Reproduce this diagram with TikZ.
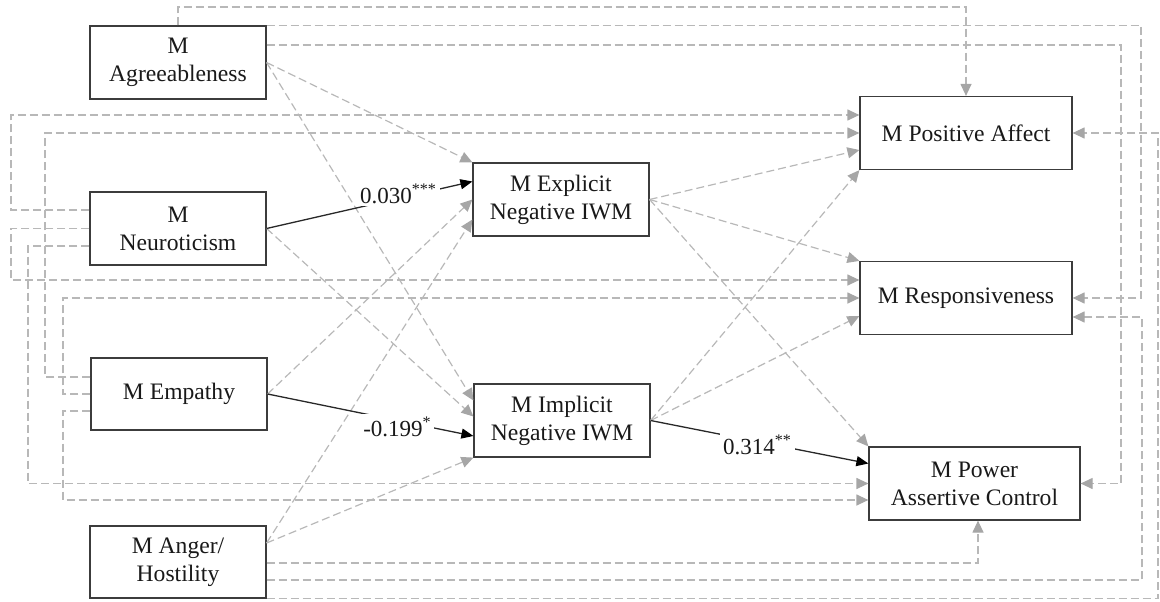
\documentclass[tikz,border=0pt]{standalone}
\usepackage{fontspec}
\setmainfont{Liberation Serif}
\usetikzlibrary{arrows.meta,calc}
\definecolor{lgray}{RGB}{184,184,184}
\definecolor{agray}{RGB}{166,166,166}
\definecolor{boxc}{RGB}{60,60,60}
\definecolor{dline}{RGB}{40,40,40}
\begin{document}
\begin{tikzpicture}[x=1pt,y=-1pt,
  box/.style={draw=boxc, line width=1.2pt, fill=white, minimum height=73pt, inner sep=0pt,
    align=center, font=\fontsize{23.6}{28}\selectfont, text=black!90},
  g/.style={draw=lgray, line width=1.2pt, dash pattern=on 8pt off 4pt,
    -{Triangle[length=12pt,width=11pt,color=agray]}},
  s/.style={draw=dline, line width=1.3pt, -{Triangle[length=12pt,width=10pt,color=black]}},
  lab/.style={fill=white, inner sep=3pt, font=\fontsize{23}{26}\selectfont, text=black!90}
]
\useasboundingbox (0,0) rectangle (1160,602);

% nodes
\node[box, minimum width=176pt] (agree) at (178,62.5) {M\\Agreeableness};
\node[box, minimum width=176pt] (neuro) at (178,228.5) {M\\Neuroticism};
\node[box, minimum width=176pt, minimum height=72pt] (emp) at (179,394) {M Empathy};
\node[box, minimum width=176pt, minimum height=72pt] (anger) at (178,562) {M Anger/\\Hostility};
\node[box, minimum width=176pt] (expl) at (561,199.5) {M Explicit\\Negative IWM};
\node[box, minimum width=176pt] (impl) at (562,420.5) {M Implicit\\Negative IWM};
\node[box, minimum width=212pt] (pos) at (966,133) {M Positive Affect};
\node[box, minimum width=212pt] (resp) at (966,298) {M Responsiveness};
\node[box, minimum width=211pt] (power) at (974.5,483.5) {M Power\\Assertive Control};

% Agreeableness
\draw[g] (agree.north) -- (agree.north |- 0,7) -| (pos.north);
\draw[g] (agree.north east) -| (1141,298) -- (resp.east);
\draw[g] ($(agree.east)+(0,-17.5)$) -| (1121,483.5) -- (power.east);
\draw[g] (agree.east) -- (expl.north west);
\draw[g] (agree.east) -- ($(impl.west)+(0,-20)$);

% Neuroticism
\draw[g] ($(neuro.west)+(0,-18.5)$) -| (11,115) -- ($(pos.west)+(0,-18)$);
\draw[g] (neuro.west) -| (11,280) -- ($(resp.west)+(0,-18)$);
\draw[g] ($(neuro.west)+(0,17.5)$) -| (28,483.5) -- (power.west);
\draw[g] (neuro.east) -- ($(impl.west)+(0,-4)$);

% Empathy
\draw[g] ($(emp.west)+(0,-17)$) -| (45,133) -- (pos.west);
\draw[g] (emp.west) -| (63,298) -- (resp.west);
\draw[g] ($(emp.west)+(0,17)$) -| (63,500) -- ($(power.west)+(0,16.5)$);
\draw[g] (emp.east) -- (expl.west);

% Anger/Hostility
\draw[g] ($(anger.east)+(0,-19)$) -- ($(expl.west)+(0,20)$);
\draw[g] ($(anger.east)+(0,-19)$) -- (impl.south west);
\draw[g] ($(anger.east)+(0,1)$) -| ($(power.south)+(3.5,0)$);
\draw[g] ($(anger.east)+(0,18)$) -| (1142,317) -- ($(resp.east)+(0,19)$);
\draw[g] (anger.south east) -| (1158,133) -- (pos.east);

% Mediators
\draw[g] (expl.east) -- ($(pos.west)+(0,17)$);
\draw[g] (expl.east) -- (resp.north west);
\draw[g] (expl.east) -- (power.north west);
\draw[g] (impl.east) -- (pos.south west);
\draw[g] (impl.east) -- ($(resp.west)+(0,18)$);

% significant paths
\draw[s] (neuro.east) -- node[lab, pos=0.64, yshift=5pt] {0.030\textsuperscript{***}} ($(expl.west)+(0,-18)$);
\draw[s] (emp.east) -- node[lab, pos=0.63, yshift=-6.5pt] {-0.199\textsuperscript{*}} ($(impl.west)+(0,15.5)$);
\draw[s] (impl.east) -- node[lab, pos=0.49, yshift=-3.5pt] {0.314\textsuperscript{**}} ($(power.west)+(0,-20)$);
\end{tikzpicture}
\end{document}
